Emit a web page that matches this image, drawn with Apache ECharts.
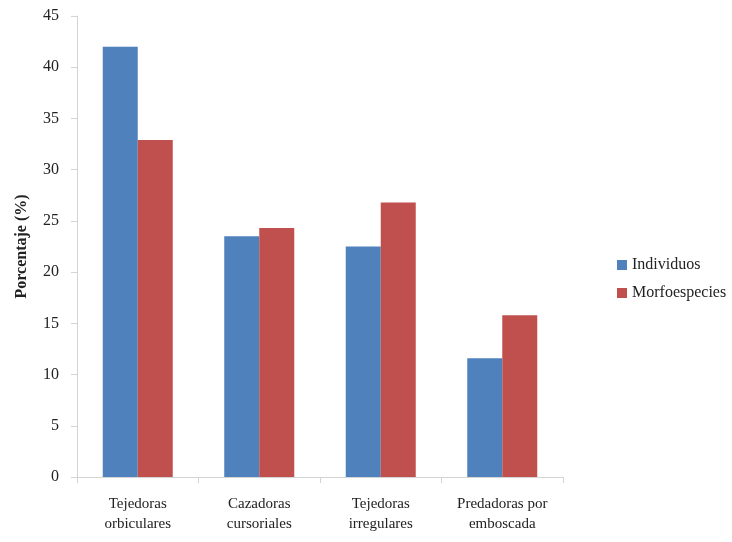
<!DOCTYPE html>
<html>
<head>
<meta charset="utf-8">
<script src="https://cdn.jsdelivr.net/npm/echarts@6/dist/echarts.min.js"></script>
<style>
  html, body { margin: 0; padding: 0; background: #ffffff; }
  #chart { width: 732px; height: 542px; }
</style>
</head>
<body>
<div id="chart"></div>
<script>
// Gremios de arañas: porcentaje de individuos y morfoespecies
const categories = ['Tejedoras\norbiculares', 'Cazadoras\ncursoriales', 'Tejedoras\nirregulares', 'Predadoras por\nemboscada'];
const individuos = [42.0, 23.5, 22.5, 11.6];
const morfoespecies = [32.9, 24.3, 26.8, 15.8];
const yTicks = [0, 5, 10, 15, 20, 25, 30, 35, 40, 45];

const serif = '"Liberation Serif", "Times New Roman", serif';
const chart = echarts.init(document.getElementById('chart'));

chart.setOption({
  animation: false,
  backgroundColor: '#ffffff',
  textStyle: { fontFamily: serif, color: '#222' },
  grid: { left: 77, right: 169, top: 16, bottom: 65 },
  legend: {
    orient: 'vertical',
    left: 612,
    top: 252,
    itemWidth: 10,
    itemHeight: 10,
    itemGap: 12,
    icon: 'rect',
    textStyle: { fontFamily: serif, fontSize: 16, color: '#222' },
    data: ['Individuos', 'Morfoespecies']
  },
  xAxis: {
    type: 'category',
    data: categories,
    axisLine: { lineStyle: { color: '#d4d4d4', width: 1 } },
    axisTick: { show: true, length: 6, alignWithLabel: false, lineStyle: { color: '#d4d4d4' } },
    axisLabel: { fontFamily: serif, fontSize: 15, color: '#222', lineHeight: 20, margin: 17, interval: 0 }
  },
  yAxis: {
    type: 'value',
    min: yTicks[0],
    max: yTicks[yTicks.length - 1],
    interval: 5,
    name: 'Porcentaje (%)',
    nameLocation: 'middle',
    nameGap: 47,
    nameRotate: 90,
    nameTextStyle: { fontFamily: serif, fontSize: 16, fontWeight: 'bold', color: '#222' },
    axisLine: { show: true, lineStyle: { color: '#d4d4d4', width: 1 } },
    axisTick: { show: true, length: 6, lineStyle: { color: '#d4d4d4' } },
    axisLabel: { fontFamily: serif, fontSize: 16, color: '#222', margin: 18 },
    splitLine: { show: false }
  },
  series: [
    {
      name: 'Individuos',
      type: 'bar',
      data: individuos,
      barWidth: 35,
      barGap: '0%',
      itemStyle: { color: '#4f81bd' }
    },
    {
      name: 'Morfoespecies',
      type: 'bar',
      data: morfoespecies,
      barWidth: 35,
      barGap: '0%',
      itemStyle: { color: '#c0504d' }
    }
  ]
});
</script>
</body>
</html>
